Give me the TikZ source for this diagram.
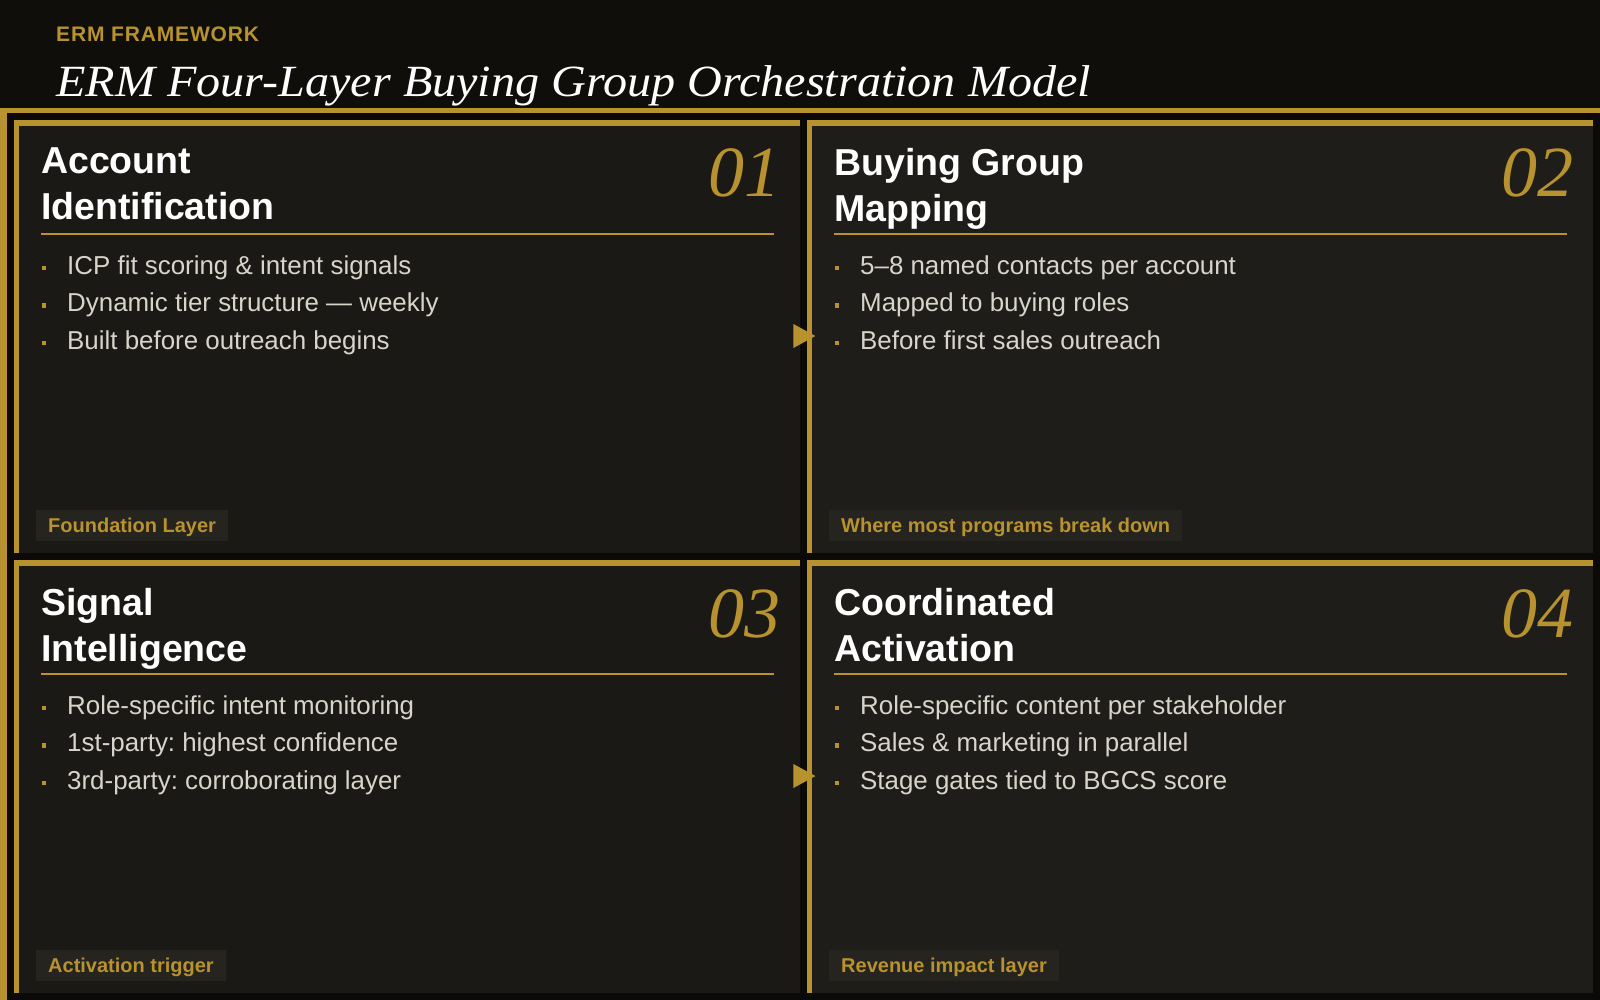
\documentclass[tikz,border=0pt]{standalone}
\usepackage{fontspec}
\setmainfont{Liberation Sans}
\newfontfamily\numfont{Liberation Serif}
\newfontfamily\titlefont{Liberation Serif}[FakeStretch=1.08]
\usetikzlibrary{positioning,calc}
\definecolor{gold}{HTML}{B8922E}
\definecolor{pagebg}{HTML}{0B0A08}
\definecolor{hdrbg}{HTML}{0F0E0B}
\definecolor{panelA}{HTML}{1A1915}
\definecolor{panelB}{HTML}{1E1D19}
\definecolor{tagbg}{HTML}{26241F}
\definecolor{itemgray}{HTML}{D8D4CB}
\frenchspacing
\begin{document}
\begin{tikzpicture}
[x=1pt,y=-1pt,
%
panel/.style={shape=rectangle,inner sep=0pt,minimum width=786pt,minimum height=433pt,anchor=north west},
head/.style={anchor=north west,inner sep=0pt,align=left,text=white,font=\fontsize{37.5}{46}\selectfont\bfseries},
num/.style={anchor=base east,inner sep=0pt,text=gold,font=\fontsize{72}{72}\selectfont\numfont\itshape},
item/.style={anchor=base west,inner sep=0pt,text=itemgray,font=\fontsize{25.9}{28}\selectfont},
dot/.style={shape=rectangle,fill=gold,minimum size=4.5pt,inner sep=0pt},
tag/.style={anchor=south west,fill=tagbg,text=gold,inner xsep=12pt,inner ysep=0pt,minimum height=31pt,
  text height=13.5pt,text depth=0pt,font=\fontsize{20}{22}\selectfont\bfseries},
%
rule/.style={draw=gold,line width=2pt}]
%
% background and header
\fill[pagebg] (0,0) rectangle (1600,1000);
\useasboundingbox (0,0) rectangle (1600,1000);
\fill[hdrbg] (0,0) rectangle (1600,108);
\fill[gold] (0,108) rectangle (1600,113);
\fill[gold] (0,108) rectangle (7,1000);
\node (kicker) [anchor=base west,inner sep=0pt,text=gold,font=\fontsize{21}{24}\selectfont\bfseries\addfontfeature{LetterSpace=4}] at (56,42) {ERM FRAMEWORK};
\node (title) [anchor=base west,inner sep=0pt,text=white,font=\fontsize{44.6}{48}\selectfont\titlefont\itshape] at (56,97) {ERM Four-Layer Buying Group Orchestration Model};
%%
% panels
\node (P1) [panel,fill=panelA] at (14,120) {};
\node (P2) [panel,fill=panelB] at (807,120) {};
\node (P3) [panel,fill=panelA] at (14,560) {};
\node (P4) [panel,fill=panelB] at (807,560) {};
\foreach \p in {P1,P2,P3,P4} {
   \fill[gold] (\p.north west) rectangle ($(\p.north east)+(0,6)$);
   \fill[gold] (\p.north west) rectangle ($(\p.south west)+(5,0)$);
   \draw[rule] ($(\p.north west)+(27,114)$) -- ($(\p.north west)+(760,114)$);
}
%%
% layer 01
\node (h1) [head] at ($(P1.north west)+(27,28)$) {Account\\Identification};
\node (n1) [num] at ($(P1.north west)+(767,77)$) {01};
\foreach \t [count=\i] in {ICP fit scoring \& intent signals,Dynamic tier structure — weekly,Built before outreach begins} {
   \node (d1\i) [dot] at ($(P1.north west)+(30,110.5+37.5*\i)$) {};
   \node (b1\i) [item] at ($(P1.north west)+(53,116.5+37.5*\i)$) {\t};
}
\node (t1) [tag] at ($(P1.north west)+(22,421)$) {Foundation Layer};
%%
% layer 02
\node (h2) [head] at ($(P2.north west)+(27,28)$) {Buying Group\\Mapping};
\node (n2) [num] at ($(P2.north west)+(767,77)$) {02};
\foreach \t [count=\i] in {5–8 named contacts per account,Mapped to buying roles,Before first sales outreach} {
   \node (d2\i) [dot] at ($(P2.north west)+(30,110.5+37.5*\i)$) {};
   \node (b2\i) [item] at ($(P2.north west)+(53,116.5+37.5*\i)$) {\t};
}
\node (t2) [tag] at ($(P2.north west)+(22,421)$) {Where most programs break down};
%%
% layer 03
\node (h3) [head] at ($(P3.north west)+(27,28)$) {Signal\\Intelligence};
\node (n3) [num] at ($(P3.north west)+(767,77)$) {03};
\foreach \t [count=\i] in {Role-specific intent monitoring,1st-party: highest confidence,3rd-party: corroborating layer} {
   \node (d3\i) [dot] at ($(P3.north west)+(30,110.5+37.5*\i)$) {};
   \node (b3\i) [item] at ($(P3.north west)+(53,116.5+37.5*\i)$) {\t};
}
\node (t3) [tag] at ($(P3.north west)+(22,421)$) {Activation trigger};
%%
% layer 04
\node (h4) [head] at ($(P4.north west)+(27,28)$) {Coordinated\\Activation};
\node (n4) [num] at ($(P4.north west)+(767,77)$) {04};
\foreach \t [count=\i] in {Role-specific content per stakeholder,Sales \& marketing in parallel,Stage gates tied to BGCS score} {
   \node (d4\i) [dot] at ($(P4.north west)+(30,110.5+37.5*\i)$) {};
   \node (b4\i) [item] at ($(P4.north west)+(53,116.5+37.5*\i)$) {\t};
}
\node (t4) [tag] at ($(P4.north west)+(22,421)$) {Revenue impact layer};
%%
% flow markers between columns
\coordinate (a1) at ($(P1.north east)+(-7,216)$);
\coordinate (a3) at ($(P3.north east)+(-7,216)$);
\fill[gold] (a1) ++(0,-12) -- ++(0,24) -- ++(22,-12) -- cycle;
\fill[gold] (a3) ++(0,-12) -- ++(0,24) -- ++(22,-12) -- cycle;
\end{tikzpicture}
\end{document}
